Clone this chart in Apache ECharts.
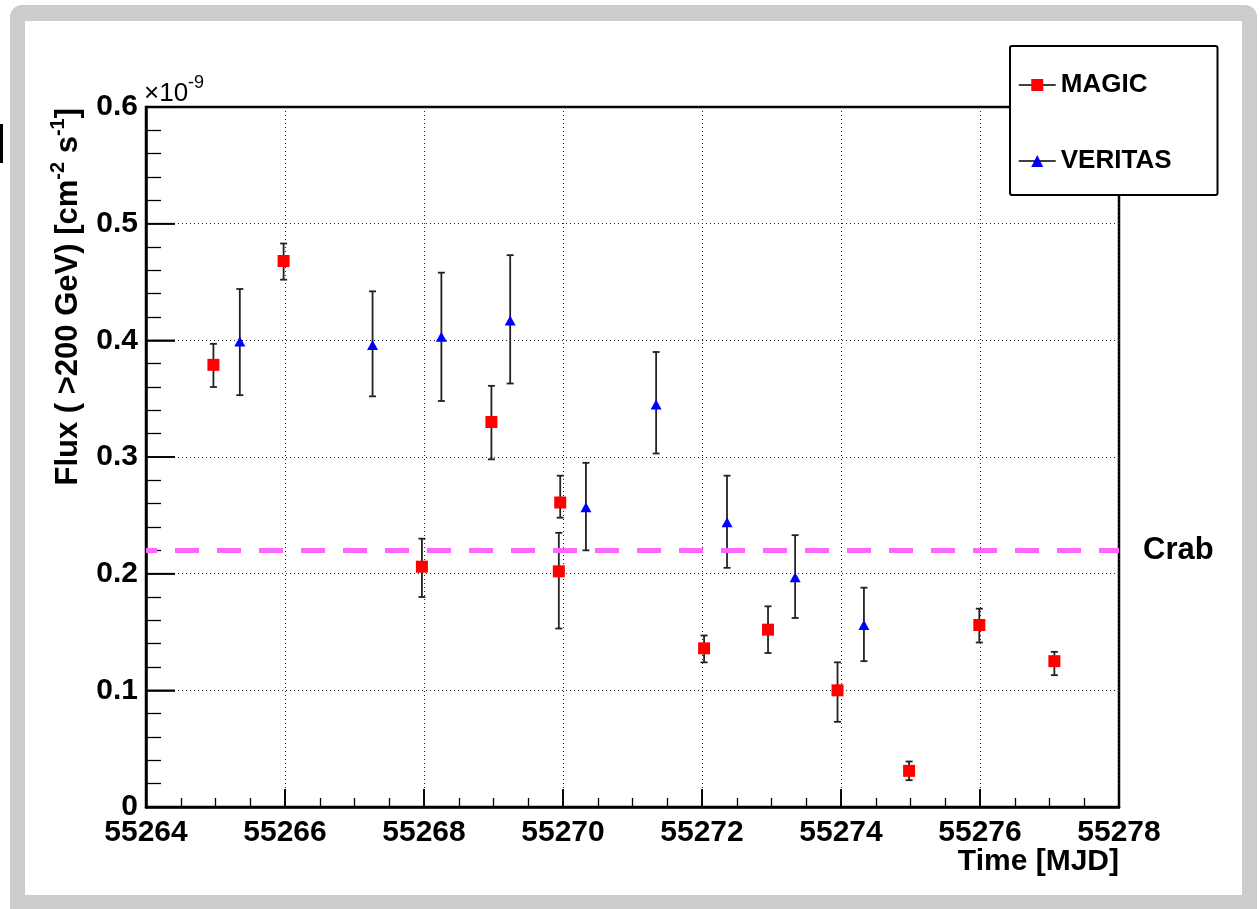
<!DOCTYPE html>
<html>
<head>
    <meta charset="utf-8">
    <title>MAGIC / VERITAS light curve</title>
    <script src="https://cdn.jsdelivr.net/npm/echarts@6/dist/echarts.min.js"></script>
    <style>
        html, body { margin: 0; padding: 0; background: #fff; overflow: hidden; }
        .frame { position: absolute; left: 10px; top: 5px; width: 1247px; height: 930px; background: #cccccc; border-radius: 12px; }
        .panel { position: absolute; left: 25px; top: 21px; width: 1217px; height: 874px; background: #fff; }
        .mark { position: absolute; left: 0; top: 124px; width: 3px; height: 39px; background: #000; }
        #chart { position: absolute; left: 0; top: 0; width: 1260px; height: 909px; }
    </style>
</head>
<body>
<div class="frame"></div>
<div class="panel"></div>
<div class="mark"></div>
<div id="chart"></div>

<script type="text/javascript">
    // MAGIC points: time [MJD], flux [1e-9 cm-2 s-1], error bar low / high
    var magicMjd  = [55264.97, 55265.98, 55267.97, 55268.97, 55269.96, 55269.94, 55272.03, 55272.95, 55273.95, 55274.98, 55275.99, 55277.07];
    var magicFlux = [0.379, 0.468, 0.206, 0.330, 0.261, 0.202, 0.136, 0.152, 0.100, 0.031, 0.156, 0.125];
    var magicLo   = [0.360, 0.452, 0.180, 0.298, 0.248, 0.153, 0.124, 0.132, 0.073, 0.023, 0.141, 0.113];
    var magicHi   = [0.397, 0.483, 0.230, 0.361, 0.284, 0.235, 0.147, 0.172, 0.124, 0.039, 0.170, 0.133];

    // VERITAS points
    var veritasMjd  = [55265.35, 55267.26, 55268.25, 55269.24, 55270.33, 55271.34, 55272.36, 55273.34, 55274.33];
    var veritasFlux = [0.399, 0.396, 0.403, 0.417, 0.257, 0.345, 0.244, 0.197, 0.156];
    var veritasLo   = [0.353, 0.352, 0.348, 0.363, 0.220, 0.303, 0.205, 0.162, 0.125];
    var veritasHi   = [0.444, 0.442, 0.458, 0.473, 0.295, 0.390, 0.284, 0.233, 0.188];

    // Crab flux level
    var crabFlux = 0.22;

    // axis ranges and inner major tick values
    var xMin = 55264, xMax = 55278, xStep = 2;
    var yMin = 0, yMax = 0.6, yStep = 0.1;
    var xTicks = [55266, 55268, 55270, 55272, 55274, 55276];
    var yTicks = [0.1, 0.2, 0.3, 0.4, 0.5];

    var font = '"Liberation Sans", Arial, Helvetica, sans-serif';

    function points(xs, ys) {
        return xs.map(function (x, i) { return [x, ys[i]]; });
    }
    function bars(xs, lo, hi) {
        return xs.map(function (x, i) { return [x, lo[i], hi[i]]; });
    }

    //误差棒
    function renderErr(params, api) {
        var x = api.value(0);
        var top = api.coord([x, api.value(2)]);
        var bot = api.coord([x, api.value(1)]);
        var w = 3.5;
        var st = {stroke: '#222', lineWidth: 1.8};
        return {
            type: 'group',
            children: [
                {type: 'line', shape: {x1: top[0], y1: top[1], x2: bot[0], y2: bot[1]}, style: st},
                {type: 'line', shape: {x1: top[0] - w, y1: top[1], x2: top[0] + w, y2: top[1]}, style: st},
                {type: 'line', shape: {x1: bot[0] - w, y1: bot[1], x2: bot[0] + w, y2: bot[1]}, style: st}
            ]
        };
    }

    //主刻度: 0 = x轴(竖线), 1 = y轴(横线)
    var tickData = xTicks.map(function (v) { return [v, yMin, 0]; })
        .concat(yTicks.map(function (v) { return [xMin, v, 1]; }));
    function renderTick(params, api) {
        var p = api.coord([api.value(0), api.value(1)]);
        var vertical = api.value(2) === 0;
        return {
            type: 'line',
            shape: vertical ? {x1: p[0], y1: p[1], x2: p[0], y2: p[1] - 18}
                            : {x1: p[0], y1: p[1], x2: p[0] + 29, y2: p[1]},
            style: {stroke: '#000', lineWidth: 1.6}
        };
    }

    var chart = echarts.init(document.getElementById('chart'));
    chart.setOption({
        animation: false,
        backgroundColor: 'transparent',
        textStyle: {fontFamily: font},
        graphic: [
            {
                type: 'text', x: 144, y: 114, z: 5,
                style: {
                    text: '×10{sup|-9}', fontSize: 26, fontFamily: font, fill: '#000',
                    align: 'left', verticalAlign: 'bottom', lineHeight: 40,
                    rich: {sup: {fontSize: 18, verticalAlign: 'top', lineHeight: 40}}
                }
            },
            {
                type: 'text', x: 68, y: 108, rotation: Math.PI / 2, z: 5,
                style: {
                    text: 'Flux ( >200 GeV) [cm{sup|-2} s{sup|-1}]',
                    fontSize: 31, fontWeight: 'bold', fontFamily: font, fill: '#000',
                    align: 'right', verticalAlign: 'middle', lineHeight: 40,
                    rich: {sup: {fontSize: 20, fontWeight: 'bold', verticalAlign: 'top', lineHeight: 40}}
                }
            }
        ],
        grid: {
            left: 146, right: 141, top: 107, bottom: 102,
            show: true, borderColor: '#000', borderWidth: 2.5,
            outerBoundsMode: 'none'
        },
        legend: {
            data: ['MAGIC', 'VERITAS'],
            orient: 'vertical',
            left: 1010, top: 46,
            padding: [26, 46, 21, 8],
            itemGap: 50,
            itemWidth: 37, itemHeight: 15,
            backgroundColor: '#fff',
            borderColor: '#000', borderWidth: 2, borderRadius: 2,
            z: 10,
            lineStyle: {color: '#000', width: 1.5},
            textStyle: {fontSize: 26, fontWeight: 'bold', color: '#000', fontFamily: font}
        },
        xAxis: {
            type: 'value',
            min: xMin, max: xMax, interval: xStep,
            name: 'Time [MJD]',
            nameLocation: 'end', nameGap: 0, nameMoveOverlap: false,
            nameTextStyle: {fontSize: 30, fontWeight: 'bold', color: '#000', align: 'right', verticalAlign: 'top', padding: [40, 0, 0, 0]},
            axisLine: {show: true, onZero: false, lineStyle: {color: '#000', width: 2.5}},
            axisTick: {show: true, inside: true, length: 18, lineStyle: {color: '#000', width: 1.6}},
            minorTick: {show: true, splitNumber: 4, length: 9, lineStyle: {color: '#000', width: 1.3}},
            axisLabel: {fontSize: 30, fontWeight: 'bold', color: '#000', margin: 11, formatter: function (v) { return String(v); }},
            splitLine: {show: true, lineStyle: {color: '#222', width: 1, type: [1, 3]}}
        },
        yAxis: {
            type: 'value',
            min: yMin, max: yMax, interval: yStep,
            axisLine: {show: true, onZero: false, lineStyle: {color: '#000', width: 2.5}},
            axisTick: {show: true, inside: true, length: 29, lineStyle: {color: '#000', width: 1.6}},
            minorTick: {show: true, splitNumber: 5, length: 15, lineStyle: {color: '#000', width: 1.3}},
            axisLabel: {fontSize: 30, fontWeight: 'bold', color: '#000', margin: 8},
            splitLine: {show: true, lineStyle: {color: '#222', width: 1, type: [1, 3]}}
        },
        series: [
            {
                type: 'line', name: 'Crab', data: [], z: 1, silent: true,
                markLine: {
                    silent: true, symbol: ['none', 'none'], animation: false,
                    data: [{yAxis: crabFlux}],
                    lineStyle: {color: '#ff66ff', width: 5, type: [24, 18], dashOffset: 13},
                    label: {show: true, position: 'end', distance: 24, formatter: 'Crab', color: '#000', fontSize: 31, fontWeight: 'bold', fontFamily: font}
                }
            },
            {
                type: 'custom', name: 'ticks', z: 2, silent: true,
                renderItem: renderTick, encode: {x: 0, y: 1},
                data: tickData
            },
            {
                type: 'custom', name: 'MAGIC err', z: 3, silent: true,
                renderItem: renderErr, encode: {x: 0, y: [1, 2]},
                data: bars(magicMjd, magicLo, magicHi)
            },
            {
                type: 'custom', name: 'VERITAS err', z: 3, silent: true,
                renderItem: renderErr, encode: {x: 0, y: [1, 2]},
                data: bars(veritasMjd, veritasLo, veritasHi)
            },
            {
                type: 'line', name: 'MAGIC', z: 5,
                data: points(magicMjd, magicFlux),
                symbol: 'rect', symbolSize: 12, showSymbol: true, showAllSymbol: true,
                lineStyle: {width: 0},
                itemStyle: {color: '#ff0000'}
            },
            {
                type: 'line', name: 'VERITAS', z: 5,
                data: points(veritasMjd, veritasFlux),
                symbol: 'triangle', symbolSize: [11, 10], showSymbol: true, showAllSymbol: true,
                lineStyle: {width: 0},
                itemStyle: {color: '#0000ff'}
            }
        ]
    });
</script>
</body>
</html>
